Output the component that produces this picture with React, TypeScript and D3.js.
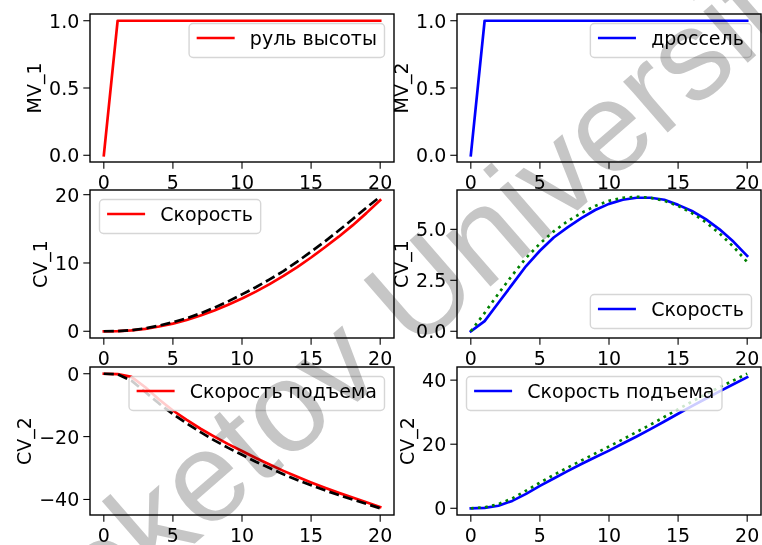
import { useMemo } from "react";
import * as d3 from "d3";

// time steps shared by every subplot
const steps = [0, 1, 2, 3, 4, 5, 6, 7, 8, 9, 10, 11, 12, 13, 14, 15, 16, 17, 18, 19, 20];

// manipulated variables
const elevatorCmd = [0, 1, 1, 1, 1, 1, 1, 1, 1, 1, 1, 1, 1, 1, 1, 1, 1, 1, 1, 1, 1];
const throttleCmd = [0, 1, 1, 1, 1, 1, 1, 1, 1, 1, 1, 1, 1, 1, 1, 1, 1, 1, 1, 1, 1];

// controlled variables (solid = response, ref = dashed / dotted reference)
const speedLeft = [0, 0.02, 0.12, 0.35, 0.7, 1.12, 1.65, 2.3, 3.05, 3.9, 4.8, 5.8, 6.9, 8.1, 9.4, 10.8, 12.3, 13.85, 15.5, 17.3, 19.2];
const speedLeftRef = [0, 0.03, 0.16, 0.43, 0.83, 1.32, 1.92, 2.62, 3.45, 4.38, 5.4, 6.45, 7.6, 8.8, 10.2, 11.65, 13.15, 14.75, 16.4, 18.1, 19.7];
const speedRight = [0, 0.5, 1.4, 2.3, 3.2, 3.95, 4.6, 5.1, 5.55, 5.95, 6.25, 6.45, 6.55, 6.55, 6.45, 6.2, 5.9, 5.5, 5.0, 4.4, 3.7];
const speedRightRef = [0, 0.9, 1.85, 2.75, 3.6, 4.3, 4.9, 5.4, 5.8, 6.15, 6.4, 6.55, 6.6, 6.55, 6.4, 6.15, 5.8, 5.35, 4.8, 4.15, 3.4];
const climbLeft = [0, -0.1, -1.0, -4.3, -8.2, -11.7, -14.7, -17.5, -20.0, -22.4, -24.6, -26.8, -28.9, -30.9, -32.8, -34.6, -36.3, -37.9, -39.4, -40.9, -42.4];
const climbLeftRef = [0, -0.2, -2.2, -5.8, -9.5, -12.8, -15.8, -18.6, -21.2, -23.6, -25.8, -28.0, -30.0, -32.0, -33.8, -35.5, -37.1, -38.6, -40.0, -41.4, -42.8];
const climbRight = [0, 0.1, 0.8, 2.3, 4.5, 7.0, 9.3, 11.6, 13.8, 15.9, 18.0, 20.2, 22.4, 24.7, 27.1, 29.5, 31.9, 34.2, 36.5, 38.7, 40.9];
const climbRightRef = [0, 0.3, 1.3, 3.1, 5.5, 8.0, 10.4, 12.7, 14.9, 17.1, 19.3, 21.5, 23.8, 26.1, 28.5, 30.9, 33.3, 35.6, 37.8, 39.9, 42.0];

// labels and ticks
const xTicks = [0, 5, 10, 15, 20];
const yLabels = ["MV_1", "MV_2", "CV_1", "CV_1", "CV_2", "CV_2"];
const legendLabels = ["руль высоты", "дроссель", "Скорость", "Скорость", "Скорость подъема", "Скорость подъема"];
const yTicks = [
  [0, 0.5, 1],
  [0, 0.5, 1],
  [0, 10, 20],
  [0, 2.5, 5],
  [-40, -20, 0],
  [0, 20, 40],
];
const watermark = "Beketov University";

const width = 762;
const height = 545;
const fontSize = 19;
const font = '"DejaVu Sans", sans-serif';
const lw = 2.7;
const tickLen = 6.7;

const colLeft = [90, 457];
const colWidth = 304;
const rowTop = [14, 190, 367];
const rowHeight = 148;

type Series = { values: number[]; color: string; dash?: string; cap?: "butt" | "square" };
type Panel = {
  series: Series[];
  yTicks: number[];
  fmt: (v: number) => string;
  yLabel: string;
  legend: string;
  loc: "upper right" | "upper left" | "lower right";
};

const dashed = `${3.7 * lw},${1.6 * lw}`;
const dotted = `${1 * lw},${1.65 * lw}`;
const f1 = d3.format(".1f");
const f0 = d3.format("d");

const panels: Panel[] = [
  { series: [{ values: elevatorCmd, color: "#ff0000" }], yTicks: yTicks[0], fmt: f1, yLabel: yLabels[0], legend: legendLabels[0], loc: "upper right" },
  { series: [{ values: throttleCmd, color: "#0000ff" }], yTicks: yTicks[1], fmt: f1, yLabel: yLabels[1], legend: legendLabels[1], loc: "upper right" },
  {
    series: [
      { values: speedLeft, color: "#ff0000" },
      { values: speedLeftRef, color: "#000000", dash: dashed, cap: "butt" },
    ],
    yTicks: yTicks[2], fmt: f0, yLabel: yLabels[2], legend: legendLabels[2], loc: "upper left",
  },
  {
    series: [
      { values: speedRight, color: "#0000ff" },
      { values: speedRightRef, color: "#008000", dash: dotted, cap: "butt" },
    ],
    yTicks: yTicks[3], fmt: f1, yLabel: yLabels[3], legend: legendLabels[3], loc: "lower right",
  },
  {
    series: [
      { values: climbLeft, color: "#ff0000" },
      { values: climbLeftRef, color: "#000000", dash: dashed, cap: "butt" },
    ],
    yTicks: yTicks[4], fmt: f0, yLabel: yLabels[4], legend: legendLabels[4], loc: "upper right",
  },
  {
    series: [
      { values: climbRight, color: "#0000ff" },
      { values: climbRightRef, color: "#008000", dash: dotted, cap: "butt" },
    ],
    yTicks: yTicks[5], fmt: f0, yLabel: yLabels[5], legend: legendLabels[5], loc: "upper left",
  },
];

let ctx: CanvasRenderingContext2D | null = null;
const textWidth = (s: string) => {
  if (!ctx) ctx = document.createElement("canvas").getContext("2d");
  if (!ctx) return s.length * fontSize * 0.6;
  ctx.font = `${fontSize}px "DejaVu Sans"`;
  return ctx.measureText(s).width;
};

const Subplot = ({ p, i }: { p: Panel; i: number }) => {
  const left = colLeft[i % 2];
  const top = rowTop[Math.floor(i / 2)];
  const right = left + colWidth;
  const bottom = top + rowHeight;

  const { x, y, paths } = useMemo(() => {
    const x = d3.scaleLinear().domain([-1, 21]).range([left, right]);
    const all = p.series.flatMap((s) => s.values);
    const [lo, hi] = d3.extent(all) as [number, number];
    const m = (hi - lo) * 0.05;
    const y = d3.scaleLinear().domain([lo - m, hi + m]).range([bottom, top]);
    const line = d3
      .line<number>()
      .x((_, k) => x(steps[k]))
      .y((d) => y(d));
    const paths = p.series.map((s) => line(s.values) ?? "");
    return { x, y, paths };
  }, [p, left, right, top, bottom]);

  const tickW = d3.max(p.yTicks, (t) => textWidth(p.fmt(t))) as number;
  const yLabelX = left - tickLen - 4 - tickW - 8;

  // legend box
  const labelW = textWidth(p.legend);
  const boxW = 7.6 + 38 + 15.2 + labelW + 7.6;
  const boxH = 34;
  const pad = 9.5;
  const boxX = p.loc === "upper left" ? left + pad : right - pad - boxW;
  const boxY = p.loc === "lower right" ? bottom - pad - boxH : top + pad;
  const midY = boxY + boxH / 2;

  return (
    <g>
      <rect x={left} y={top} width={colWidth} height={rowHeight} fill="#ffffff" />
      {p.series.map((s, k) => (
        <path
          key={k}
          d={paths[k]}
          fill="none"
          stroke={s.color}
          strokeWidth={lw}
          strokeDasharray={s.dash}
          strokeLinecap={s.cap ?? "square"}
          strokeLinejoin="round"
        />
      ))}
      <rect x={left} y={top} width={colWidth} height={rowHeight} fill="none" stroke="#000" strokeWidth={1.4} />

      {xTicks.map((t) => (
        <g key={t}>
          <line x1={x(t)} x2={x(t)} y1={bottom} y2={bottom + tickLen} stroke="#000" strokeWidth={1.1} />
          <text x={x(t)} y={bottom + 27} textAnchor="middle" fontSize={fontSize} fontFamily={font}>
            {t}
          </text>
        </g>
      ))}
      {p.yTicks.map((t) => (
        <g key={t}>
          <line x1={left - tickLen} x2={left} y1={y(t)} y2={y(t)} stroke="#000" strokeWidth={1.1} />
          <text x={left - tickLen - 4} y={y(t) + 7} textAnchor="end" fontSize={fontSize} fontFamily={font}>
            {p.fmt(t)}
          </text>
        </g>
      ))}
      <text
        transform={`translate(${yLabelX},${(top + bottom) / 2}) rotate(-90)`}
        textAnchor="middle"
        fontSize={fontSize}
        fontFamily={font}
      >
        {p.yLabel}
      </text>

      <rect
        x={boxX}
        y={boxY}
        width={boxW}
        height={boxH}
        rx={4}
        fill="#ffffff"
        fillOpacity={0.8}
        stroke="#cccccc"
        strokeOpacity={0.8}
        strokeWidth={1.4}
      />
      <line
        x1={boxX + 7.6}
        x2={boxX + 7.6 + 38}
        y1={midY - 2.5}
        y2={midY - 2.5}
        stroke={p.series[0].color}
        strokeWidth={lw}
      />
      <text x={boxX + 7.6 + 38 + 15.2} y={midY + 4.5} fontSize={fontSize} fontFamily={font}>
        {p.legend}
      </text>
    </g>
  );
};

const App = () => {
  return (
    <svg width={width} height={height} style={{ position: "absolute", left: 0, top: 0 }}>
      <rect width={width} height={height} fill="#ffffff" />
      {panels.map((p, i) => (
        <Subplot key={i} p={p} i={i} />
      ))}
      <text
        transform="translate(438,332) rotate(-41)"
        textAnchor="middle"
        fontSize={128}
        fontFamily='"Liberation Sans", Arial, sans-serif'
        fill="#808080"
        fillOpacity={0.45}
        style={{ mixBlendMode: "multiply" }}
      >
        {watermark}
      </text>
    </svg>
  );
};

export default App;
